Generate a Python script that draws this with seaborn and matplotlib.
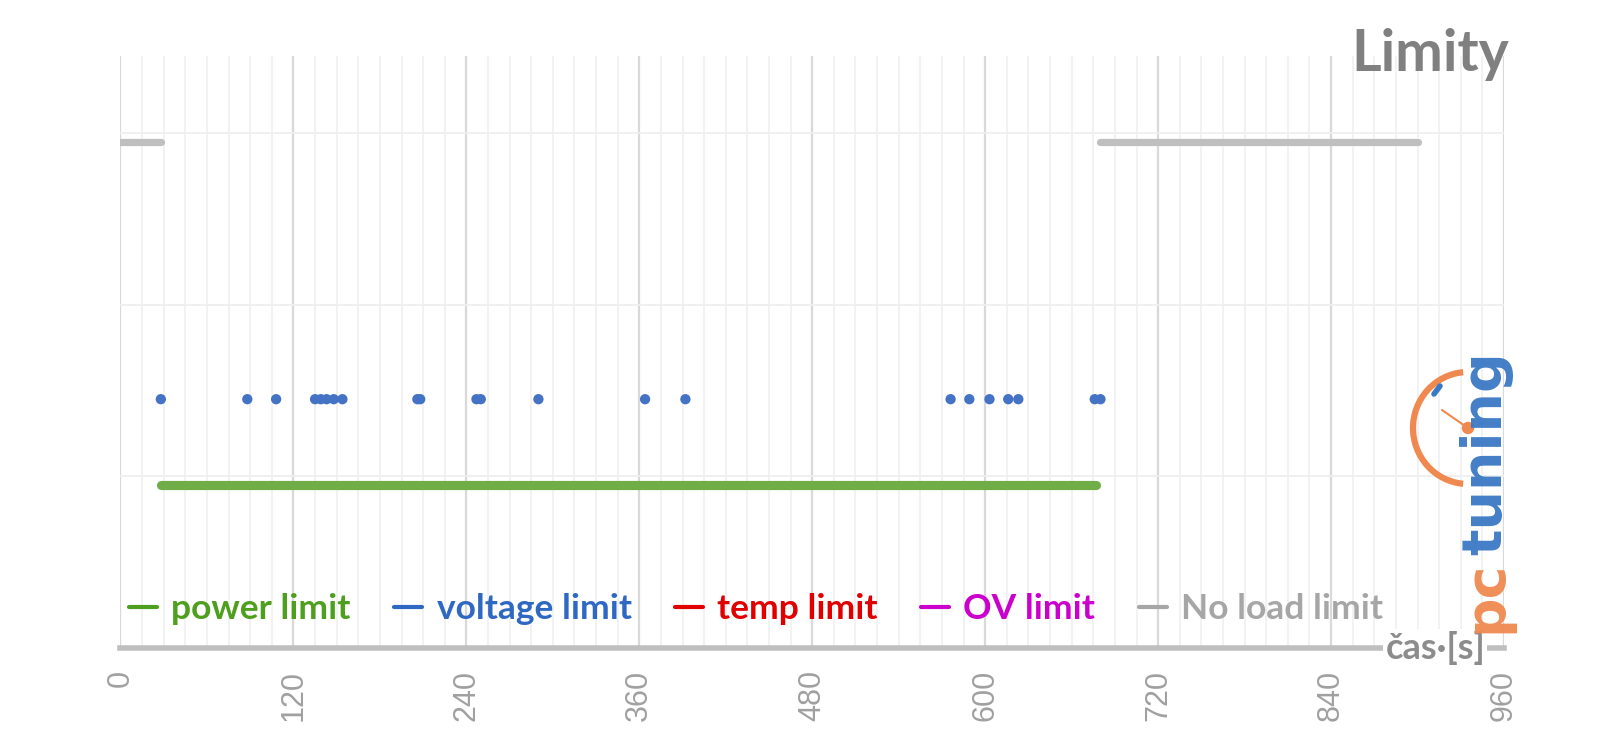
import numpy as np
import pandas as pd
import seaborn as sns
import matplotlib
matplotlib.use("Agg")
import matplotlib.pyplot as plt
from matplotlib.lines import Line2D
from matplotlib.patches import Arc, Circle
from matplotlib.transforms import IdentityTransform

# ---------------- data ----------------
series_names = ["power limit", "voltage limit", "temp limit", "OV limit", "No load limit"]
series_levels = [0.95, 1.45, 1.95, 2.45, 2.95]

power_t = [28, 677]
voltage_t = [28, 88, 108, 135, 139, 143, 148, 154, 206, 208, 247, 250,
             290, 364, 392, 576, 589, 603, 616, 623, 676, 680]
noload_seg1 = [0, 28]
noload_seg2 = [680, 900]

x_ticks = [0, 120, 240, 360, 480, 600, 720, 840, 960]

# ---------------- styling ----------------
line_colors = ["#70ad47", "#4472c4", "#e00000", "#cc00cc", "#bfbfbf"]
text_colors = ["#4e9f1e", "#2f68c3", "#e00000", "#cc00cc", "#a6a6a6"]

sns.set_theme(style="white")
plt.rcParams["font.family"] = ["Lato", "DejaVu Sans"]

fig = plt.figure(figsize=(16, 7.45), dpi=100)
ax = fig.add_axes([0.0753, 0.1302, 0.8647, 0.7946])

df_power = pd.DataFrame({"t": power_t, "y": [series_levels[0]] * len(power_t)})
df_volt = pd.DataFrame({"t": voltage_t, "y": [series_levels[1]] * len(voltage_t)})
df_noload = pd.DataFrame({
    "t": noload_seg1 + noload_seg2,
    "y": [series_levels[4]] * 4,
    "seg": [0, 0, 1, 1],
})

sns.lineplot(data=df_power, x="t", y="y", color=line_colors[0], lw=6.6,
             solid_capstyle="round", ax=ax, zorder=4, legend=False)
sns.lineplot(data=df_noload, x="t", y="y", units="seg", estimator=None,
             color=line_colors[4], lw=5.2, solid_capstyle="round", ax=ax,
             zorder=4, legend=False)
sns.scatterplot(data=df_volt, x="t", y="y", color=line_colors[1], s=55,
                edgecolor="none", ax=ax, zorder=5, legend=False)

ax.set_xlim(0, 960)
ax.set_ylim(0, 3.45)
ax.set_xticks(x_ticks)
ax.set_xticklabels([str(v) for v in x_ticks], rotation=90,
                   fontsize=22, color="#a0a0a0", family="Liberation Sans")
ax.set_xticks(np.arange(0, 961, 15), minor=True)
ax.set_yticks([0, 1, 2, 3])
ax.set_yticklabels([])
ax.set_xlabel("")
ax.set_ylabel("")

ax.grid(which="major", axis="x", color="#d9d9d9", lw=1.6, zorder=0)
ax.grid(which="minor", axis="x", color="#f1f1f1", lw=1.3, zorder=0)
ax.grid(which="major", axis="y", color="#efefef", lw=1.3, zorder=0)
ax.set_axisbelow(True)

for s in ["left", "right", "top"]:
    ax.spines[s].set_visible(False)
ax.spines["bottom"].set_color("#bfbfbf")
ax.spines["bottom"].set_linewidth(4)
ax.spines["bottom"].set_zorder(3)

ax.tick_params(axis="x", which="major", direction="out", length=10, width=3,
               color="#bfbfbf", pad=6)
ax.tick_params(axis="x", which="minor", length=0)
ax.tick_params(axis="y", length=0)

# legend
handles = [Line2D([], [], color=c, lw=3) for c in text_colors]
leg = ax.legend(handles, series_names, loc="lower left",
                bbox_to_anchor=(-0.0105, 0.0), ncol=5, frameon=False,
                handlelength=0.8, handletextpad=0.4, columnspacing=1.22,
                prop={"weight": "bold", "size": 25.5}, labelcolor=text_colors,
                borderaxespad=0.25)
leg.set_zorder(6)

# axis title on the axis line
ax.text(947, 0, "čas·[s]", ha="right", va="center", fontsize=26,
        weight="bold", color="#8c8c8c", zorder=7, clip_on=False,
        bbox=dict(fc="white", ec="none", pad=1.5))

# chart title
fig.text(0.9435, 0.963, "Limity", ha="right", va="top", fontsize=41,
         weight="bold", color="#808080")

# watermark logo (approximation)
fig.text(0.929, 0.150, "pc", rotation=90, ha="center", va="bottom",
         fontsize=40, weight="bold", color="#f0894f", family="DejaVu Sans",
         alpha=0.95)
fig.text(0.929, 0.255, "tuning", rotation=90, ha="center", va="bottom",
         fontsize=40, weight="bold", color="#3a78c4", family="DejaVu Sans",
         alpha=0.95)
cx, cy = 1468, 317
fig.add_artist(Arc((cx, cy), 110, 112, theta1=95, theta2=265,
                   transform=IdentityTransform(), color="#f0894f", lw=4.5))
fig.add_artist(Line2D([cx, cx - 26], [cy, cy + 18], transform=IdentityTransform(),
                      color="#f0894f", lw=1.5))
fig.add_artist(Circle((cx, cy), 5.5, transform=IdentityTransform(),
                      color="#f0894f"))
fig.add_artist(Line2D([cx - 34, cx - 28], [cy + 34, cy + 42],
                      transform=IdentityTransform(), color="#3a78c4", lw=4))

fig.savefig("out.png", dpi=100)
